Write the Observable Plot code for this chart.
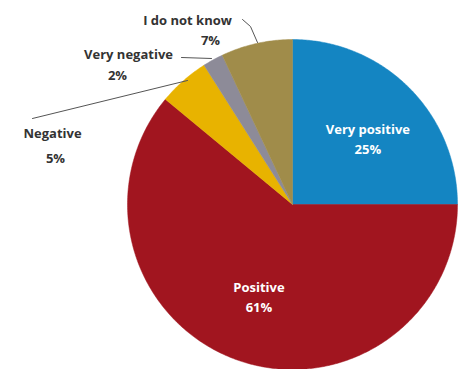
<!DOCTYPE html>
<html>
<head>
<meta charset="utf-8">
<script src="https://cdn.jsdelivr.net/npm/d3@7"></script>
<script src="https://cdn.jsdelivr.net/npm/@observablehq/plot@0.6"></script>
<style>
  html, body { margin: 0; padding: 0; background: #fff; }
  #chart svg { display: block; overflow: visible; }
</style>
</head>
<body>
<div id="chart"></div>
<script>
// ---- data ----
const categories = ["Very positive", "Positive", "Negative", "Very negative", "I do not know"];
const values = [25, 61, 5, 2, 7];
const colors = ["#1485c2", "#a1151f", "#e8b300", "#8d8b98", "#a08c4a"];

// ---- layout for outside labels (pixel positions, not data) ----
const cx = 292, cy = 204, R = 165;
const px = v => (v - cx) / R;     // pixel -> unit x
const py = v => (cy - v) / R;     // pixel -> unit y
const outside = {
  "Negative":      {name: [52, 133], pct: [55, 158], leader: [[32, 118], [187, 80]]},
  "Very negative": {name: [128, 54], pct: [117, 75], leader: [[181, 57], [211, 58]]},
  "I do not know": {name: [187, 20], pct: [210, 40], leader: [[242, 19], [250, 26], [257, 42]]}
};

const pie = d3.pie().sort(null).startAngle(0).endAngle(2 * Math.PI)(values);

// slice polygons in unit coordinates (angle clockwise from 12 o'clock)
const slicePts = [];
pie.forEach((p, i) => {
  slicePts.push({k: i, x: 0, y: 0});
  const n = Math.max(4, Math.ceil((p.endAngle - p.startAngle) / 0.01));
  for (let j = 0; j <= n; j++) {
    const a = p.startAngle + (p.endAngle - p.startAngle) * j / n;
    slicePts.push({k: i, x: Math.sin(a), y: Math.cos(a)});
  }
  slicePts.push({k: i, x: 0, y: 0});
});

const inside = pie.filter((p, i) => !outside[categories[i]]).map(p => {
  const a = (p.startAngle + p.endAngle) / 2 + (p.index === 0 ? 0.08 : 0);
  return {name: categories[p.index], v: p.value, x: 0.6 * Math.sin(a), y: 0.6 * Math.cos(a)};
});

const outNames = [], outPcts = [], leaders = [];
categories.forEach((c, i) => {
  const o = outside[c];
  if (!o) return;
  outNames.push({t: c, x: px(o.name[0]), y: py(o.name[1])});
  outPcts.push({t: values[i] + "%", x: px(o.pct[0]), y: py(o.pct[1])});
  o.leader.forEach(pt => leaders.push({k: c, x: px(pt[0]), y: py(pt[1])}));
});

const font = "'Open Sans', 'DejaVu Sans', sans-serif";

const chart = Plot.plot({
  width: 462,
  height: 369,
  margin: 0,
  style: {fontFamily: font, background: "#fff"},
  x: {domain: [-1, 1], range: [cx - R, cx + R], axis: null},
  y: {domain: [-1, 1], range: [cy + R, cy - R], axis: null},
  marks: [
    ...pie.map((p, i) => Plot.line(slicePts.filter(d => d.k === i), {
      x: "x", y: "y", fill: colors[i], stroke: colors[i], strokeWidth: 0.5, curve: "linear"
    })),
    Plot.line(leaders, {x: "x", y: "y", z: "k", stroke: "#555", strokeWidth: 1}),
    Plot.text(inside, {x: "x", y: "y", text: d => d.name, dy: -10, fill: "#fff",
      fontSize: 13, fontWeight: "bold"}),
    Plot.text(inside, {x: "x", y: "y", text: d => d.v + "%", dy: 10, fill: "#fff",
      fontSize: 13, fontWeight: "bold"}),
    Plot.text(outNames, {x: "x", y: "y", text: "t", fill: "#333", fontSize: 13, fontWeight: "bold"}),
    Plot.text(outPcts, {x: "x", y: "y", text: "t", fill: "#333", fontSize: 13, fontWeight: "bold"})
  ]
});
document.getElementById("chart").appendChild(chart);
</script>
</body>
</html>
